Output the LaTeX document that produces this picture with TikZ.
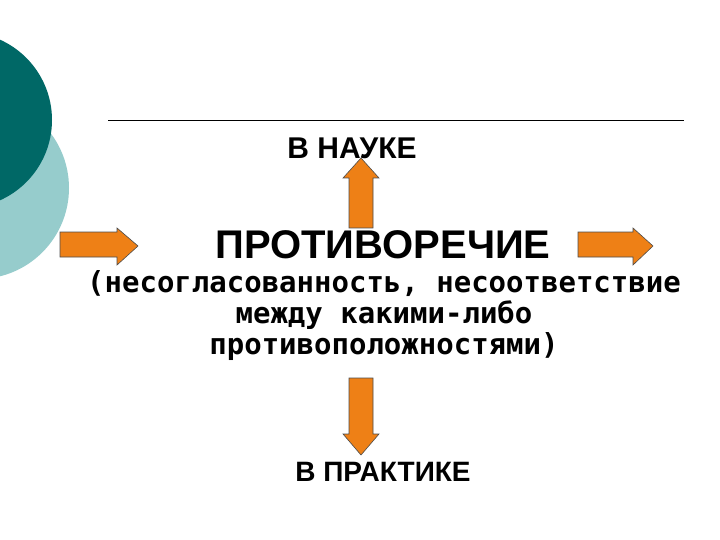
\documentclass[tikz,border=0pt]{standalone}
\usepackage{fontspec}
\setmainfont{Liberation Sans}
\newfontfamily\monob{DejaVu Sans Mono}
\begin{document}
\begin{tikzpicture}[x=1pt,y=-1pt,
  arr/.style={fill={rgb,255:red,238;green,128;blue,22},draw=black!70,line width=0.6pt},
  lbl/.style={font=\bfseries\fontsize{28}{32}\selectfont,inner sep=0}]
\useasboundingbox (0,0) rectangle (720,540);
\fill[fill={rgb,255:red,150;green,204;blue,204}] (-22,188) circle (91);
\fill[fill={rgb,255:red,0;green,104;blue,102}] (-36,120) circle (88);
\draw[line width=0.6pt] (108,120) -- (684,120);
\node[font=\bfseries\fontsize{30}{34}\selectfont,inner sep=0] (nauka) at (352,148) {В НАУКЕ};
\node[font=\bfseries\fontsize{40}{44}\selectfont,inner sep=0] (pr) at (383,245) {ПРОТИВОРЕЧИЕ};
\node[font=\monob\bfseries\fontsize{29}{31}\selectfont,align=center,inner sep=0] (desc) at (384,316)
 {(несогласованность, несоответствие\\между какими-либо\\противоположностями)};
\node[lbl] (prakt) at (383,472) {В ПРАКТИКЕ};
\draw[arr] (60,232) -- (117,232) -- (117,228) -- (138,246) -- (117,265) -- (117,257) -- (60,257) -- cycle;
\draw[arr] (578,232) -- (633,232) -- (633,228) -- (653,246) -- (633,265) -- (633,257) -- (578,257) -- cycle;
\draw[arr] (349,228) -- (349,178) -- (343,178) -- (361,158) -- (379,178) -- (373,178) -- (373,228) -- cycle;
\draw[arr] (349,378) -- (349,434) -- (343,434) -- (361,455) -- (379,434) -- (373,434) -- (373,378) -- cycle;
\end{tikzpicture}
\end{document}
